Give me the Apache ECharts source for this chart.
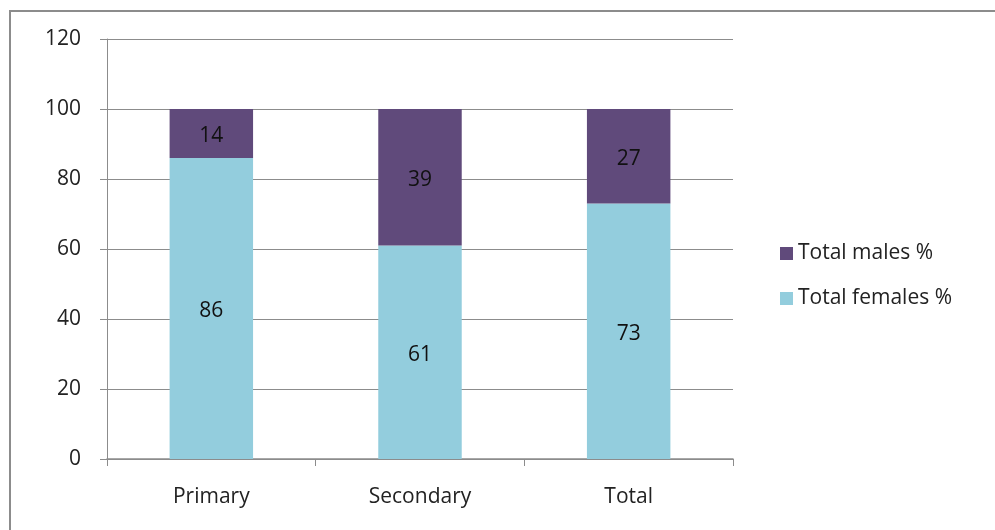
<!DOCTYPE html>
<html>
<head>
<meta charset="utf-8">
<script src="https://cdn.jsdelivr.net/npm/echarts@6/dist/echarts.min.js"></script>
<style>
  html, body { margin: 0; padding: 0; background: #fff; }
  #chart { width: 995px; height: 530px; }
</style>
</head>
<body>
<div id="chart"></div>
<script>
// Stacked share of females and males by school level
const categories = ['Primary', 'Secondary', 'Total'];
const femalesPct = [86, 61, 73];
const malesPct = [14, 39, 27];
const yTicks = { min: 0, max: 120, interval: 20 };

const FONT = '"Open Sans", Lato, sans-serif';
const chart = echarts.init(document.getElementById('chart'));

chart.setOption({
  animation: false,
  backgroundColor: '#fff',
  graphic: [{
    type: 'rect',
    shape: { x: 10, y: 11, width: 1100, height: 700 },
    style: { fill: 'none', stroke: '#8c8c8c', lineWidth: 2 },
    silent: true
  }],
  grid: { left: 107, right: 262, top: 39, bottom: 71, containLabel: false },
  legend: {
    orient: 'vertical',
    left: 775,
    top: 238,
    itemWidth: 13,
    itemHeight: 13,
    itemGap: 24,
    icon: 'rect',
    data: ['Total males %', 'Total females %'],
    textStyle: { fontFamily: FONT, fontSize: 21, color: '#222', padding: [0, 0, 0, 0] }
  },
  xAxis: {
    type: 'category',
    data: categories,
    axisLine: { lineStyle: { color: '#8c8c8c', width: 1.5 } },
    axisTick: { show: true, length: 7, alignWithLabel: false, lineStyle: { color: '#8c8c8c' } },
    axisLabel: { fontFamily: FONT, fontSize: 21, color: '#222', margin: 28 }
  },
  yAxis: {
    type: 'value',
    min: yTicks.min,
    max: yTicks.max,
    interval: yTicks.interval,
    axisLine: { show: true, lineStyle: { color: '#8c8c8c' } },
    axisTick: { show: true, length: 7, lineStyle: { color: '#8c8c8c' } },
    splitLine: { lineStyle: { color: '#8c8c8c', width: 1 } },
    axisLabel: { fontFamily: FONT, fontSize: 21, color: '#222', margin: 26 }
  },
  series: [
    {
      name: 'Total females %',
      type: 'bar',
      stack: 'share',
      data: femalesPct,
      barWidth: '40%',
      itemStyle: { color: '#93CDDD' },
      label: { show: true, position: 'inside', offset: [0, 3], fontFamily: FONT, fontSize: 21, color: '#111' }
    },
    {
      name: 'Total males %',
      type: 'bar',
      stack: 'share',
      data: malesPct,
      barWidth: '40%',
      itemStyle: { color: '#604A7B' },
      label: { show: true, position: 'inside', offset: [0, 3], fontFamily: FONT, fontSize: 21, color: '#111' }
    }
  ]
});
</script>
</body>
</html>
